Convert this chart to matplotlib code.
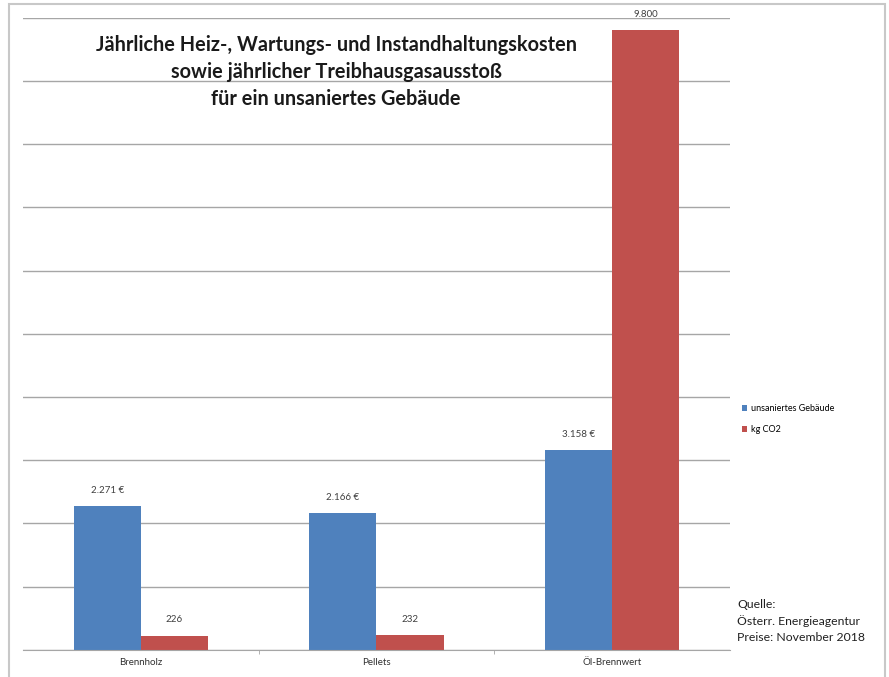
import matplotlib.pyplot as plt
import numpy as np
from matplotlib.patches import Rectangle

kategorien = ['Brennholz', 'Pellets', 'Öl-Brennwert']
kosten = [2271, 2166, 3158]
co2 = [226, 232, 9800]
kosten_labels = ['2.271 €', '2.166 €', '3.158 €']
co2_labels = ['226', '232', '9.800']
serien = ['unsaniertes Gebäude', 'kg CO2']

blau = '#4F81BD'
rot = '#C0504D'

plt.rcParams['font.family'] = ['Lato', 'DejaVu Sans']

fig = plt.figure(figsize=(8.89, 6.77), dpi=100)
fig.patches.append(Rectangle((0.010, -0.01), 0.985, 1.004, transform=fig.transFigure,
                             fill=False, edgecolor='#c8c8c8', linewidth=1.5))
ax = fig.add_axes([0.026, 0.040, 0.795, 0.934])

x = np.arange(len(kategorien))
b = 0.285
ax.bar(x - b / 2, kosten, b, color=blau, label=serien[0])
ax.bar(x + b / 2, co2, b, color=rot, label=serien[1])

for i in range(len(kategorien)):
    ax.text(x[i] - b / 2, kosten[i] + 180, kosten_labels[i], ha='center', va='bottom',
            fontsize=7, color='#404040')
    ax.text(x[i] + b / 2, co2[i] + 180, co2_labels[i], ha='center', va='bottom',
            fontsize=7, color='#404040')

ax.set_xlim(-0.5, 2.5)
ax.set_ylim(0, 10000)
ax.set_yticks(np.arange(0, 10001, 1000))
ax.yaxis.grid(True, color='#a6a6a6', linewidth=1)
ax.set_axisbelow(True)
ax.tick_params(axis='y', left=False, labelleft=False)
ax.set_xticks(x)
ax.set_xticklabels(kategorien, fontsize=7, color='#303030')
ax.tick_params(axis='x', length=0, pad=6)
ax.set_xticks([0.5, 1.5], minor=True)
ax.tick_params(axis='x', which='minor', length=3, color='#a6a6a6')
for s in ['top', 'right', 'left']:
    ax.spines[s].set_visible(False)
ax.spines['bottom'].set_color('#a6a6a6')

fig.text(0.378, 0.948, 'Jährliche Heiz-, Wartungs- und Instandhaltungskosten\n'
         'sowie jährlicher Treibhausgasausstoß\nfür ein unsaniertes Gebäude',
         ha='center', va='top', fontsize=14.3, fontweight='bold', linespacing=1.42,
         color='#1a1a1a')

ax.legend(loc='center left', bbox_to_anchor=(1.005, 0.365), frameon=False, fontsize=6.5,
          handlelength=0.6, handleheight=0.6, handletextpad=0.4, labelspacing=1.3)

fig.text(0.829, 0.115, 'Quelle:\nÖsterr. Energieagentur\nPreise: November 2018',
         ha='left', va='top', fontsize=8.8, linespacing=1.5, color='#202020')

fig.savefig('out.png', dpi=100)
